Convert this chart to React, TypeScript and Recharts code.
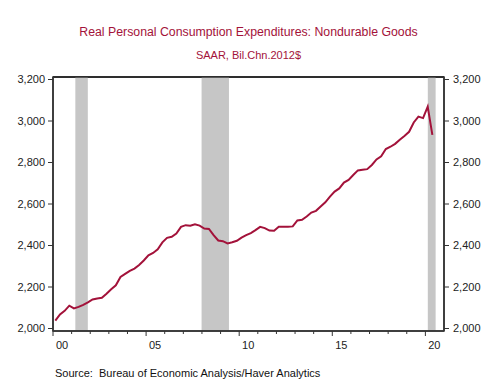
import React from "react";
import {
  ComposedChart,
  Line,
  XAxis,
  YAxis,
  ReferenceArea,
  CartesianGrid,
} from "recharts";

// Quarterly real PCE, nondurable goods (SAAR, Bil.Chn.2012$), 2000Q1 .. 2020Q2
const startYear = 2000;
const pceNondurables = [
  2038, 2068, 2085, 2110, // 2000
  2097, 2104, 2114, 2126, // 2001
  2140, 2145, 2148, 2168, // 2002
  2189, 2208, 2248, 2263, // 2003
  2278, 2289, 2306, 2328, // 2004
  2353, 2364, 2382, 2415, // 2005
  2437, 2442, 2458, 2490, // 2006
  2498, 2495, 2502, 2496, // 2007
  2482, 2480, 2450, 2424, // 2008
  2421, 2410, 2416, 2423, // 2009
  2438, 2450, 2460, 2474, // 2010
  2490, 2484, 2472, 2471, // 2011
  2490, 2490, 2490, 2492, // 2012
  2521, 2524, 2540, 2559, // 2013
  2567, 2588, 2608, 2636, // 2014
  2660, 2675, 2703, 2716, // 2015
  2740, 2762, 2765, 2768, // 2016
  2788, 2815, 2830, 2865, // 2017
  2876, 2890, 2910, 2928, // 2018
  2948, 2993, 3021, 3014, // 2019
  3069, 2933, // 2020
];

const recessions = [
  { start: 2001.2, end: 2001.87 },
  { start: 2007.98, end: 2009.45 },
  { start: 2020.13, end: 2020.55 },
];

const yTicks = [2000, 2200, 2400, 2600, 2800, 3000, 3200];
const xTicks = [
  2000, 2001, 2002, 2003, 2004, 2005, 2006, 2007, 2008, 2009, 2010,
  2011, 2012, 2013, 2014, 2015, 2016, 2017, 2018, 2019, 2020,
];
const xDomain = [2000, 2021];
const yDomain = [2000, 3200];

const title = "Real Personal Consumption Expenditures: Nondurable Goods";
const subtitle = "SAAR, Bil.Chn.2012$";
const source = "Source:  Bureau of Economic Analysis/Haver Analytics";

const data = pceNondurables.map((v, i) => ({
  t: startYear + (i + 0.5) / 4,
  value: v,
}));

const FONT = "'Liberation Sans', Arial, Helvetica, sans-serif";
const AXIS = "#333333";
const RED = "#a3123a";

const fmt = (v: number) => v.toLocaleString("en-US");

const XTick = (props: any) => {
  const { x, y, payload } = props;
  const v = payload.value as number;
  const major = v % 5 === 0;
  return (
    <g>
      <line x1={x} x2={x} y1={y} y2={y + (major ? 5 : 3)} stroke={AXIS} strokeWidth={1} />
      {major && (
        <text
          x={x + 9}
          y={y + 18}
          textAnchor="middle"
          fontSize={11}
          fontFamily={FONT}
          fill="#222"
        >
          {String(v % 100).padStart(2, "0")}
        </text>
      )}
    </g>
  );
};

export default function App() {
  return (
    <div style={{ position: "absolute", left: 0, top: 0, width: 497, height: 382, background: "#fff", fontFamily: FONT }}>
      <div style={{ position: "absolute", left: 0, top: 24, width: 497, textAlign: "center", fontSize: 12.3, lineHeight: "16px", color: RED }}>
        {title}
      </div>
      <div style={{ position: "absolute", left: 0, top: 47, width: 497, textAlign: "center", fontSize: 11, lineHeight: "16px", color: RED }}>
        {subtitle}
      </div>
      <div style={{ position: "absolute", left: 55, top: 365, fontSize: 11, lineHeight: "16px", color: "#111", whiteSpace: "pre" }}>
        {source}
      </div>
      <ComposedChart
        width={497}
        height={382}
        data={data}
        margin={{ top: 77, right: 0, bottom: 0, left: 0 }}
        style={{ position: "absolute", left: 0, top: 0 }}
      >
        <CartesianGrid
          xAxisId="main"
          yAxisId="left"
          vertical={false}
          horizontal
          horizontalCoordinatesGenerator={({ offset }: any) => [offset.top]}
          stroke="#222"
          strokeWidth={2}
          strokeOpacity={1}
        />
        <XAxis
          xAxisId="main"
          dataKey="t"
          type="number"
          domain={xDomain}
          ticks={xTicks}
          interval={0}
          height={51}
          tickLine={false}
          tickSize={0}
          tickMargin={0}
          tick={<XTick />}
          axisLine={{ stroke: AXIS, strokeWidth: 1.5 }}
          allowDataOverflow
        />
        <YAxis
          yAxisId="left"
          orientation="left"
          width={53}
          domain={yDomain}
          ticks={yTicks}
          interval={0}
          tickFormatter={fmt}
          padding={{ top: 2.5, bottom: 2.5 }}
          tickSize={5}
          tickMargin={3}
          tick={{ fontSize: 11, fill: "#222", fontFamily: FONT }}
          tickLine={{ stroke: AXIS }}
          axisLine={{ stroke: AXIS, strokeWidth: 1.5 }}
          allowDataOverflow
        />
        <YAxis
          yAxisId="right"
          orientation="right"
          width={53}
          domain={yDomain}
          ticks={yTicks}
          interval={0}
          tickFormatter={fmt}
          padding={{ top: 2.5, bottom: 2.5 }}
          tickSize={5}
          tickMargin={4}
          tick={{ fontSize: 11, fill: "#222", fontFamily: FONT }}
          tickLine={{ stroke: AXIS }}
          axisLine={{ stroke: AXIS, strokeWidth: 1.5 }}
          allowDataOverflow
        />
        <YAxis yAxisId="frame" hide domain={[0, 1]} width={0} allowDataOverflow />
        {recessions.map((r, i) => (
          <ReferenceArea
            key={i}
            xAxisId="main"
            yAxisId="frame"
            x1={r.start}
            x2={r.end}
            y1={0}
            y2={1}
            fill="#c6c6c6"
            fillOpacity={1}
            stroke="none"
          />
        ))}
        <ReferenceArea
          xAxisId="main"
          yAxisId="frame"
          x1={xDomain[0]}
          x2={xDomain[1]}
          y1={0}
          y2={1}
          fill="none"
          fillOpacity={0}
          stroke={AXIS}
          strokeWidth={1.5}
          strokeOpacity={1}
        />
        <Line
          xAxisId="main"
          yAxisId="left"
          type="linear"
          dataKey="value"
          stroke={RED}
          strokeWidth={2}
          dot={false}
          isAnimationActive={false}
        />
      </ComposedChart>
    </div>
  );
}
